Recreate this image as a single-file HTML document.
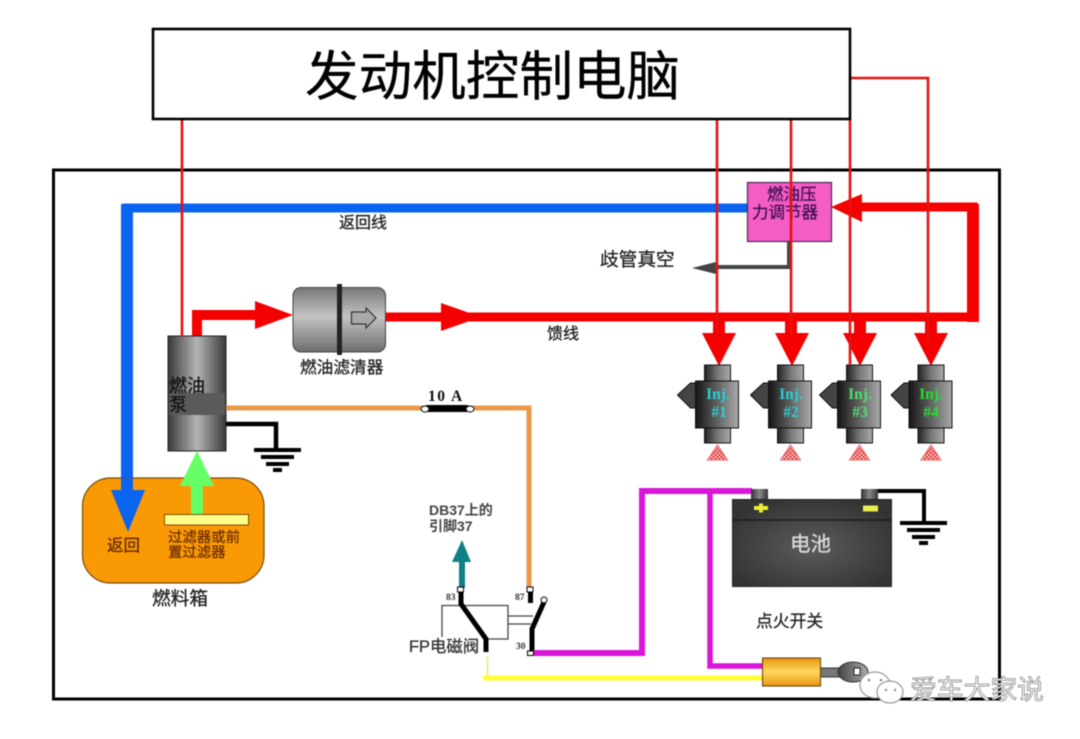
<!DOCTYPE html>
<html><head><meta charset="utf-8">
<style>
html,body{margin:0;padding:0;background:#fff;width:1080px;height:739px;overflow:hidden}
svg{display:block;filter:blur(0.55px)}
text{font-family:"Liberation Sans","Noto Sans CJK SC",sans-serif}
.ser{font-family:"Liberation Serif",serif;font-weight:bold}
</style></head><body>
<svg width="1080" height="739" viewBox="0 0 1080 739" xmlns="http://www.w3.org/2000/svg">
<defs>
<linearGradient id="inj" x1="0" x2="1" y1="0" y2="0"><stop offset="0" stop-color="#151515"/><stop offset="1" stop-color="#aaaaaa"/></linearGradient>
<linearGradient id="cap" x1="0" x2="1" y1="0" y2="0"><stop offset="0" stop-color="#222"/><stop offset=".5" stop-color="#777"/><stop offset="1" stop-color="#aaa"/></linearGradient>
<linearGradient id="pump" x1="0" x2="1" y1="0" y2="0"><stop offset="0" stop-color="#3a3a3a"/><stop offset=".5" stop-color="#b5b5b5"/><stop offset="1" stop-color="#3a3a3a"/></linearGradient>
<linearGradient id="filt" x1="0" x2="0" y1="0" y2="1"><stop offset="0" stop-color="#777"/><stop offset=".45" stop-color="#c4c4c4"/><stop offset="1" stop-color="#6e6e6e"/></linearGradient>
<linearGradient id="ign" x1="0" x2="0" y1="0" y2="1"><stop offset="0" stop-color="#e8960f"/><stop offset=".5" stop-color="#ffd860"/><stop offset="1" stop-color="#e8960f"/></linearGradient>
<radialGradient id="bat" cx=".5" cy=".55" r=".6"><stop offset="0" stop-color="#5c5c5c"/><stop offset="1" stop-color="#333"/></radialGradient>
<linearGradient id="term" x1="0" x2="1" y1="0" y2="0"><stop offset="0" stop-color="#333"/><stop offset=".5" stop-color="#888"/><stop offset="1" stop-color="#333"/></linearGradient>
<linearGradient id="key" x1="0" x2="1" y1="0" y2="0"><stop offset="0" stop-color="#444"/><stop offset="1" stop-color="#aaa"/></linearGradient>
<pattern id="hatch" width="4" height="4" patternUnits="userSpaceOnUse"><rect width="4" height="4" fill="#fbd5d5"/><path d="M0 0L4 4M4 0L0 4" stroke="#e04040" stroke-width="1"/></pattern>
<g id="injector">
<polygon points="-40,30 -27,18 -21,18 -21,43 -27,43" fill="#444" stroke="#111"/>
<rect x="-13" y="0" width="26" height="16" fill="url(#cap)" stroke="#111"/>
<rect x="-13" y="62" width="26" height="16" fill="url(#cap)" stroke="#111"/>
<rect x="-22" y="16" width="43" height="47" fill="url(#inj)" stroke="#111"/>
<polygon points="-10,95 10,95 0,80" fill="url(#hatch)" stroke="#e86060"/>
</g>
<g id="ground">
<rect x="-23" y="0" width="47" height="4" fill="#000"/>
<rect x="-16" y="7" width="33" height="4" fill="#000"/>
<rect x="-11" y="14" width="23" height="4" fill="#000"/>
<rect x="-4" y="20" width="9" height="4" fill="#000"/>
</g>
</defs>
<rect width="1080" height="739" fill="#fff"/>

<!-- frame -->
<rect x="53.5" y="170" width="946" height="529" fill="#fff" stroke="#000" stroke-width="3"/>

<!-- blue return -->
<path d="M748 208H127V492" fill="none" stroke="#0a64f0" stroke-width="9"/>
<rect x="121" y="204" width="12" height="288" fill="#0a64f0"/>
<polygon points="111,490 145,490 128,532" fill="#0a64f0"/>

<!-- feed -->
<path d="M197 337V315H256" fill="none" stroke="#f40000" stroke-width="10"/>
<polygon points="255,301 255,329 293,315" fill="#f40000"/>
<path d="M386 317H973V207H860" fill="none" stroke="#f40000" stroke-width="9"/>
<rect x="967" y="204" width="12" height="118" fill="#f40000"/>
<polygon points="441,303 441,331 481,317" fill="#f40000"/>
<polygon points="862,194 862,222 831,207" fill="#f40000"/>
<g fill="#f40000">
<rect x="713" y="320" width="12" height="15"/><polygon points="702,333 736,333 719,366"/>
<rect x="785" y="320" width="12" height="15"/><polygon points="775,333 809,333 792,366"/>
<rect x="854" y="320" width="12" height="15"/><polygon points="843,333 877,333 860,366"/>
<rect x="925" y="320" width="12" height="15"/><polygon points="914,333 948,333 931,366"/>
</g>

<!-- injectors -->
<use href="#injector" x="717.5" y="365"/>
<use href="#injector" x="790.5" y="365"/>
<use href="#injector" x="859.5" y="365"/>
<use href="#injector" x="931" y="365"/>
<g font-size="15.5" text-anchor="middle">
<text class="ser" x="718" y="399" fill="#28d0d4">Inj.</text><text class="ser" x="719" y="417" fill="#28d0d4">#1</text>
<text class="ser" x="791" y="399" fill="#28d0d4">Inj.</text><text class="ser" x="791" y="417" fill="#28d0d4">#2</text>
<text class="ser" x="860" y="399" fill="#50e070">Inj.</text><text class="ser" x="860" y="417" fill="#50e070">#3</text>
<text class="ser" x="931" y="399" fill="#22e030">Inj.</text><text class="ser" x="931" y="417" fill="#22e030">#4</text>
</g>

<!-- regulator -->
<rect x="747.5" y="182.5" width="84" height="59" fill="#f45cc6" stroke="#4a2a55" stroke-width="1.2"/>
<text x="767" y="200" font-size="16.5" fill="#3c1050" stroke="#3c1050" stroke-width="0.25">燃油压</text>
<text x="752" y="218" font-size="16.5" fill="#3c1050" stroke="#3c1050" stroke-width="0.25">力调节器</text>

<!-- vacuum -->
<path d="M789 242V267H715" fill="none" stroke="#444" stroke-width="4"/>
<polygon points="692,268 716,262 716,274" fill="#444"/>

<!-- filter -->
<rect x="293" y="287.5" width="92.5" height="64.5" rx="8" fill="url(#filt)" stroke="#444"/>
<rect x="337" y="284" width="5" height="71" fill="#222"/>
<polygon points="351.5,312 366,312 366,308 376,318 366,328 366,324 351.5,324" fill="#aaa" stroke="#333" stroke-width="1.2"/>

<!-- pump -->
<rect x="168" y="336" width="58" height="115" fill="url(#pump)" stroke="#222"/>
<rect x="169" y="393" width="56" height="22" fill="#5a5a5a"/>
<text x="169" y="392" font-size="18" fill="#111" stroke="#111" stroke-width="0.25">燃油</text>
<text x="169" y="411" font-size="18" fill="#111" stroke="#111" stroke-width="0.25">泵</text>

<!-- pump ground -->
<path d="M226 424H276V450" fill="none" stroke="#000" stroke-width="4.5"/>
<use href="#ground" x="277" y="448"/>

<!-- tank -->
<rect x="82.5" y="478" width="181.5" height="105" rx="28" fill="#f99a05" stroke="#7a4c08" stroke-width="1.2"/>
<polygon points="197,451 180,486 214,486" fill="#66ff66"/>
<rect x="191" y="485" width="12" height="30" fill="#66ff66"/>
<rect x="121" y="478" width="12" height="14" fill="#0a64f0"/>
<polygon points="111,490 145,490 128,532" fill="#0a64f0"/>
<rect x="164.5" y="514.5" width="84" height="10.5" fill="#ffff88" stroke="#7a4c08"/>
<text x="107" y="551" font-size="16.5" fill="#6a2c00" stroke="#6a2c00" stroke-width="0.3">返回</text>
<text x="168" y="542" font-size="14.4" fill="#6a2c00" stroke="#6a2c00" stroke-width="0.25">过滤器或前</text>
<text x="168" y="557" font-size="14.4" fill="#6a2c00" stroke="#6a2c00" stroke-width="0.25">置过滤器</text>

<!-- orange / fuse -->
<path d="M226 408H529V588" fill="none" stroke="#e89a4a" stroke-width="5"/>
<rect x="424" y="405" width="46" height="7" rx="3.5" fill="#000"/>
<ellipse cx="425" cy="409" rx="4" ry="3" fill="#fff" stroke="#000"/>
<ellipse cx="470" cy="409" rx="4" ry="3" fill="#fff" stroke="#000"/>
<text class="ser" x="428" y="401" font-size="15.5" fill="#111" letter-spacing="1.5">10 A</text>

<!-- relay -->
<polygon points="462,540 452,562 471,562" fill="#0e7f85"/>
<rect x="459" y="561" width="6" height="27" fill="#0e7f85"/>
<path d="M442 637V605.5H508V639H486" fill="none" stroke="#444" stroke-width="1.3"/>
<path d="M508 616H533M508 624H531" stroke="#444" stroke-width="1.3"/>
<path d="M461 592V604L486 639V652" fill="none" stroke="#000" stroke-width="5"/>
<rect x="528" y="592" width="5" height="11" fill="#000"/>
<path d="M544 602L532 629V652" fill="none" stroke="#000" stroke-width="5"/>
<rect x="457.5" y="587" width="6" height="5" fill="#fff" stroke="#000"/>
<rect x="527" y="587" width="6" height="5" fill="#fff" stroke="#000"/>
<circle cx="544" cy="600" r="3" fill="#fff" stroke="#000"/>

<!-- magenta -->
<path d="M533 653H642V491H752" fill="none" stroke="#d815d8" stroke-width="6"/>
<path d="M710 491V666H763" fill="none" stroke="#d815d8" stroke-width="5.5"/>
<rect x="527.5" y="651" width="6" height="4.5" fill="#fff" stroke="#000"/>

<!-- yellow -->
<path d="M483 678H763" fill="none" stroke="#ffff33" stroke-width="5"/>
<path d="M487.5 656V677" fill="none" stroke="#e8e870" stroke-width="1.5"/>

<text x="429" y="515" font-size="14" fill="#444" font-weight="bold">DB37上的</text>
<text x="429" y="531" font-size="14" fill="#444" font-weight="bold">引脚37</text>
<text class="ser" x="446" y="600" font-size="9.5" fill="#333">83</text>
<text class="ser" x="515" y="600" font-size="9.5" fill="#333">87</text>
<text class="ser" x="516" y="649" font-size="9.5" fill="#333">30</text>
<text x="409" y="652" font-size="16.4" fill="#333" stroke="#333" stroke-width="0.3">FP电磁阀</text>

<!-- battery -->
<rect x="751" y="489" width="17" height="11" fill="url(#term)"/>
<rect x="861" y="489" width="17" height="11" fill="url(#term)"/>
<rect x="732.5" y="499.5" width="159" height="87" fill="url(#bat)" stroke="#222"/>
<path d="M733 520H891" stroke="#1c1c1c" stroke-width="1.5"/>
<rect x="754" y="506" width="14" height="4" fill="#ecec30"/><rect x="759" y="503.5" width="4" height="9" fill="#ecec30"/>
<rect x="863" y="505.5" width="15" height="6" fill="#ecec50"/>
<text x="790" y="551" font-size="20.5" fill="#dddddd" stroke="#dddddd" stroke-width="0.3">电池</text>
<path d="M878 491H924V522" fill="none" stroke="#000" stroke-width="4"/>
<use href="#ground" x="923" y="521"/>

<!-- ignition -->
<rect x="820" y="668" width="21" height="9" fill="#777" stroke="#333"/>
<ellipse cx="853" cy="672" rx="15" ry="10" fill="url(#key)" stroke="#333"/>
<rect x="854" y="668" width="6" height="7" fill="#fff" stroke="#222"/>
<rect x="762.5" y="658" width="58" height="28" fill="url(#ign)" stroke="#5a3c00"/>

<!-- control lines -->
<g fill="none" stroke="#e81010" stroke-width="2.6">
<path d="M182 119V336"/>
<path d="M717 119V333"/>
<path d="M791 119V336"/>
<path d="M850 119V365"/>
<path d="M850 78H928V345"/>
</g>

<!-- ECU -->
<rect x="153" y="29" width="697" height="90" fill="#fff" stroke="#000" stroke-width="2.6"/>
<text x="305" y="95" font-size="53.6" fill="#000" stroke="#000" stroke-width="0.3">发动机控制电脑</text>

<!-- labels -->
<g fill="#222" stroke="#222" stroke-width="0.3">
<text x="339" y="228" font-size="16">返回线</text>
<text x="600" y="266" font-size="18.7">歧管真空</text>
<text x="547" y="339" font-size="16">馈线</text>
<text x="300" y="373" font-size="16.7">燃油滤清器</text>
<text x="152" y="605" font-size="18.7">燃料箱</text>
<text x="756" y="627" font-size="16.8">点火开关</text>
</g>

<!-- watermark -->
<g fill="#fff" stroke="#999" stroke-width="1.2">
<ellipse cx="875" cy="685" rx="15" ry="13"/>
<ellipse cx="890" cy="692" rx="13" ry="11"/>
</g>
<g fill="#888"><circle cx="869" cy="680" r="1.3"/><circle cx="881" cy="680" r="1.3"/><circle cx="886" cy="690" r="1.2"/><circle cx="895" cy="690" r="1.2"/></g>
<text x="910" y="699" font-size="26.8" fill="#fff" stroke="#888" stroke-width="0.8">爱车大家说</text>
</svg>
</body></html>
